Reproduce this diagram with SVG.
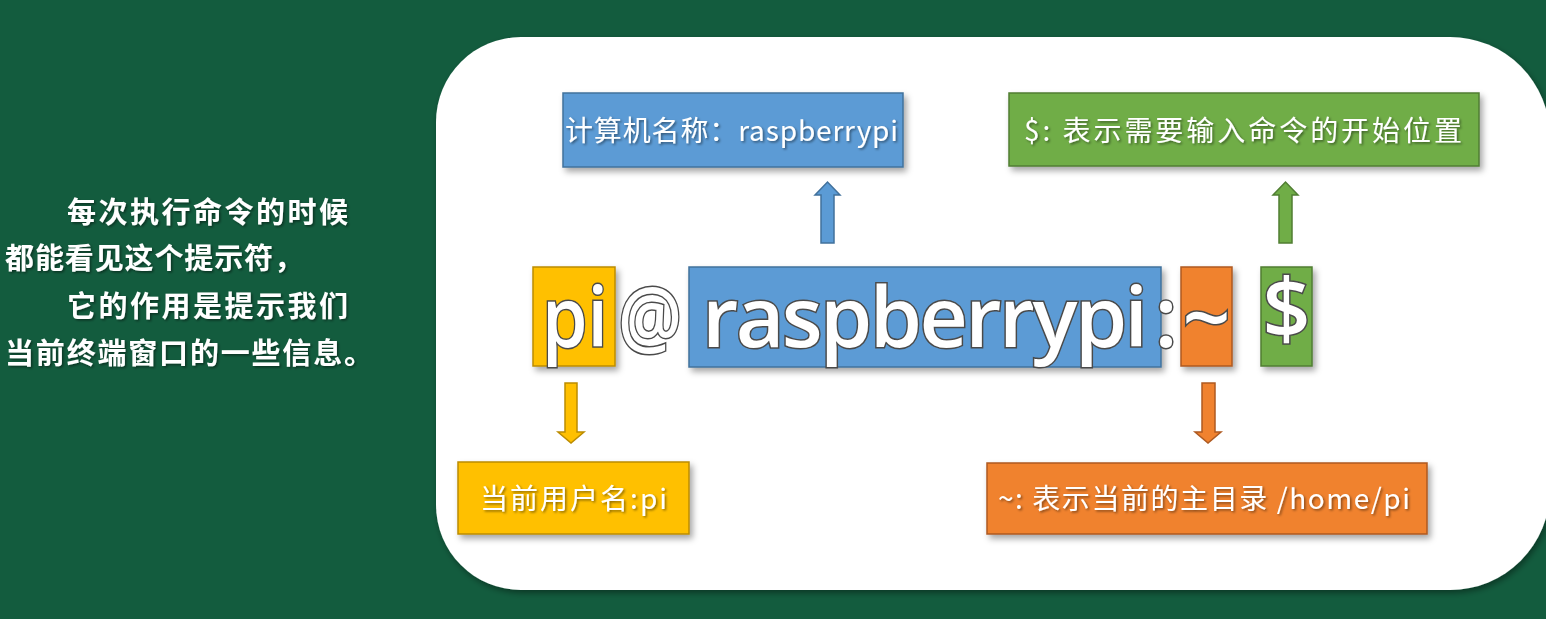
<svg xmlns="http://www.w3.org/2000/svg" width="1546" height="619" viewBox="0 0 1546 619">
<defs>
<filter id="sh" x="-10%" y="-10%" width="130%" height="140%">
<feDropShadow dx="3" dy="4" stdDeviation="3" flood-color="#000" flood-opacity="0.35"/>
</filter>
<filter id="tsh" x="-5%" y="-20%" width="110%" height="150%">
<feDropShadow dx="1.5" dy="1.5" stdDeviation="1" flood-color="#000" flood-opacity="0.45"/>
</filter>
<filter id="psh" x="-5%" y="-5%" width="110%" height="110%">
<feDropShadow dx="2" dy="3" stdDeviation="3" flood-color="#000" flood-opacity="0.4"/>
</filter>
</defs>
<style>
.side{font-family:"Noto Sans CJK SC","Noto Sans",sans-serif;font-weight:700;font-size:29px;fill:#fff}
.lbl{font-family:"Noto Sans CJK SC","Noto Sans",sans-serif;font-size:28px;fill:#fff}
.big{font-family:"Open Sans","Noto Sans",sans-serif;font-weight:600;font-size:84px;fill:#fff;stroke:#4a4a4a;stroke-width:3;paint-order:stroke;text-anchor:middle}
.blue{fill:#5b9bd5;stroke:#41719c;stroke-width:1.5}
.green{fill:#70ad47;stroke:#507e32;stroke-width:1.5}
.yellow{fill:#ffc000;stroke:#bc8c00;stroke-width:1.5}
.orange{fill:#f0822f;stroke:#ae5a21;stroke-width:1.5}
</style>
<rect width="1546" height="619" fill="#135c3e"/>
<g id="side-text" filter="url(#tsh)">
<text class="side" x="67" y="223" textLength="281" lengthAdjust="spacing">每次执行命令的时候</text>
<text class="side" x="5" y="269" textLength="298" lengthAdjust="spacing">都能看见这个提示符，</text>
<text class="side" x="67" y="317" textLength="281" lengthAdjust="spacing">它的作用是提示我们</text>
<text class="side" x="5" y="364" textLength="368" lengthAdjust="spacing">当前终端窗口的一些信息。</text>
</g>
<path id="panel" d="M521,37 H1450 A100,100 0 0 1 1550,137 V490 A100,100 0 0 1 1450,590 H521 A85,85 0 0 1 436,505 V122 A85,85 0 0 1 521,37 Z" fill="#fff" filter="url(#psh)"/>
<g id="connectors">
<polygon class="blue" points="821,243 834,243 834,195 840,195 827.5,182 815,195 821,195"/>
<polygon class="green" points="1279,243 1292,243 1292,195 1298,195 1285.5,182 1273,195 1279,195"/>
<polygon class="yellow" points="565,383 577,383 577,432 584,432 571,443 558,432 565,432"/>
<polygon class="orange" points="1202,383 1215,383 1215,432 1221,432 1208,443 1195,432 1202,432"/>
</g>
<g id="node-hostname-label">
<rect class="blue" x="563" y="93" width="340" height="74" filter="url(#sh)"/>
<text class="lbl" x="565" y="141" textLength="333" filter="url(#tsh)">计算机名称：raspberrypi</text>
</g>
<g id="node-dollar-label">
<rect class="green" x="1009" y="93" width="470" height="73" filter="url(#sh)"/>
<text class="lbl" x="1024" y="141" font-size="30" textLength="438" filter="url(#tsh)">$: 表示需要输入命令的开始位置</text>
</g>
<g id="node-pi">
<rect class="yellow" x="533" y="267" width="82" height="99" filter="url(#sh)"/>
<text class="big" x="575" y="347" textLength="66" lengthAdjust="spacingAndGlyphs">pi</text>
</g>
<g id="node-at">
<text class="big" x="650" y="347" textLength="64" lengthAdjust="spacingAndGlyphs">@</text>
</g>
<g id="node-raspberrypi">
<rect class="blue" x="689" y="267" width="472" height="100" filter="url(#sh)"/>
<text class="big" x="925" y="347" textLength="446" lengthAdjust="spacing">raspberrypi</text>
</g>
<g id="node-colon">
<text class="big" x="1166" y="347">:</text>
</g>
<g id="node-tilde">
<rect class="orange" x="1181" y="267" width="51" height="99" filter="url(#sh)"/>
<text class="big" x="1206.5" y="347">~</text>
</g>
<g id="node-dollar">
<rect class="green" x="1261" y="267" width="51" height="99" filter="url(#sh)"/>
<text class="big" x="1286.5" y="338">$</text>
</g>
<g id="node-user-label">
<rect class="yellow" x="458" y="462" width="231" height="72" filter="url(#sh)"/>
<text class="lbl" x="480" y="509" textLength="187" filter="url(#tsh)">当前用户名:pi</text>
</g>
<g id="node-home-label">
<rect class="orange" x="987" y="463" width="440" height="71" filter="url(#sh)"/>
<text class="lbl" x="998" y="509" textLength="412" filter="url(#tsh)">~: 表示当前的主目录 /home/pi</text>
</g>
</svg>
